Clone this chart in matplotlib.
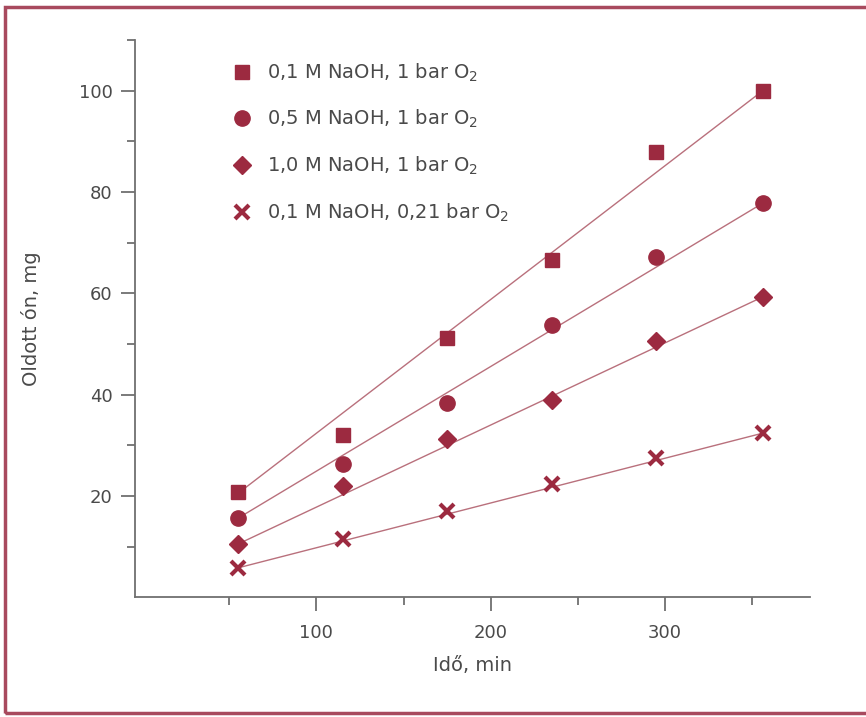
import matplotlib
matplotlib.use("Agg")
import matplotlib.pyplot as plt
from matplotlib.ticker import FixedLocator
from matplotlib.patches import Rectangle

plt.rcParams['font.family'] = ['DejaVu Sans']
plt.rcParams['mathtext.default'] = 'regular'

# Dissolution time (min) and dissolved tin (mg) for each condition
time_min = [55, 115, 175, 235, 295, 356]
labels = [
    "0,1 M NaOH, 1 bar O$_2$",
    "0,5 M NaOH, 1 bar O$_2$",
    "1,0 M NaOH, 1 bar O$_2$",
    "0,1 M NaOH, 0,21 bar O$_2$",
]
tin_01M_1bar = [20.7, 32.0, 51.2, 66.6, 88.0, 100.0]
tin_05M_1bar = [15.6, 26.3, 38.3, 53.8, 67.2, 77.8]
tin_10M_1bar = [10.5, 22.0, 31.3, 39.0, 50.5, 59.3]
tin_01M_021bar = [5.8, 11.6, 17.0, 22.3, 27.4, 32.4]

# Straight trend lines: value at the first and at the last time point
trend_start = [20.5, 15.6, 10.5, 5.8]
trend_end = [100.0, 77.8, 59.3, 32.4]

series = [tin_01M_1bar, tin_05M_1bar, tin_10M_1bar, tin_01M_021bar]
markers = ['s', 'o', 'D', 'x']
msizes = [10.5, 11, 9, 10.5]

mark_col = '#9c2a40'
line_col = '#b9707c'
text_col = '#4a4a4a'
axis_col = '#707070'

fig = plt.figure(figsize=(8.66, 7.17), dpi=100)
ax = fig.add_axes([0.156, 0.167, 0.779, 0.777])

for t0, t1 in zip(trend_start, trend_end):
    ax.plot([time_min[0], time_min[-1]], [t0, t1], color=line_col, lw=1.0, zorder=2)

handles = []
for vals, m, ms, lab in zip(series, markers, msizes, labels):
    if m == 'x':
        h, = ax.plot(time_min, vals, linestyle='none', marker=m, ms=ms,
                     mew=3.0, color=mark_col, label=lab, zorder=3)
    else:
        h, = ax.plot(time_min, vals, linestyle='none', marker=m, ms=ms,
                     mec=mark_col, mfc=mark_col, color=mark_col, label=lab, zorder=3)
    handles.append(h)

ax.set_xlim(-4, 383)
ax.set_ylim(0, 110)
ax.xaxis.set_major_locator(FixedLocator([100, 200, 300]))
ax.xaxis.set_minor_locator(FixedLocator([50, 150, 250, 350]))
ax.yaxis.set_major_locator(FixedLocator([20, 40, 60, 80, 100]))
ax.yaxis.set_minor_locator(FixedLocator([10, 30, 50, 70, 90, 110]))

for s in ['top', 'right']:
    ax.spines[s].set_visible(False)
for s in ['left', 'bottom']:
    ax.spines[s].set_color(axis_col)
    ax.spines[s].set_linewidth(1.3)

ax.tick_params(which='major', length=10, width=1.3, color=axis_col,
               labelcolor=text_col, labelsize=13, pad=6)
ax.tick_params(axis='x', which='major', pad=9)
ax.tick_params(which='minor', length=6, width=1.3, color=axis_col)

ax.set_xlabel("Idő, min", fontsize=14, color=text_col, labelpad=10)
ax.set_ylabel("Oldott ón, mg", fontsize=14, color=text_col, labelpad=27)

leg = ax.legend(handles=handles, loc='upper left', bbox_to_anchor=(0.258, 0.925),
                bbox_transform=fig.transFigure, frameon=False, fontsize=14,
                labelspacing=1.25, handletextpad=0.75, handlelength=1.1,
                borderaxespad=0)
for t in leg.get_texts():
    t.set_color(text_col)

# Decorative frame around the figure; its right edge runs past the canvas
fig.patches.append(Rectangle((0.006, 0.006), 1.1, 0.984, transform=fig.transFigure,
                             fill=False, edgecolor='#a84a5e', linewidth=2.5))

fig.savefig("out.png", dpi=100, facecolor='white')
